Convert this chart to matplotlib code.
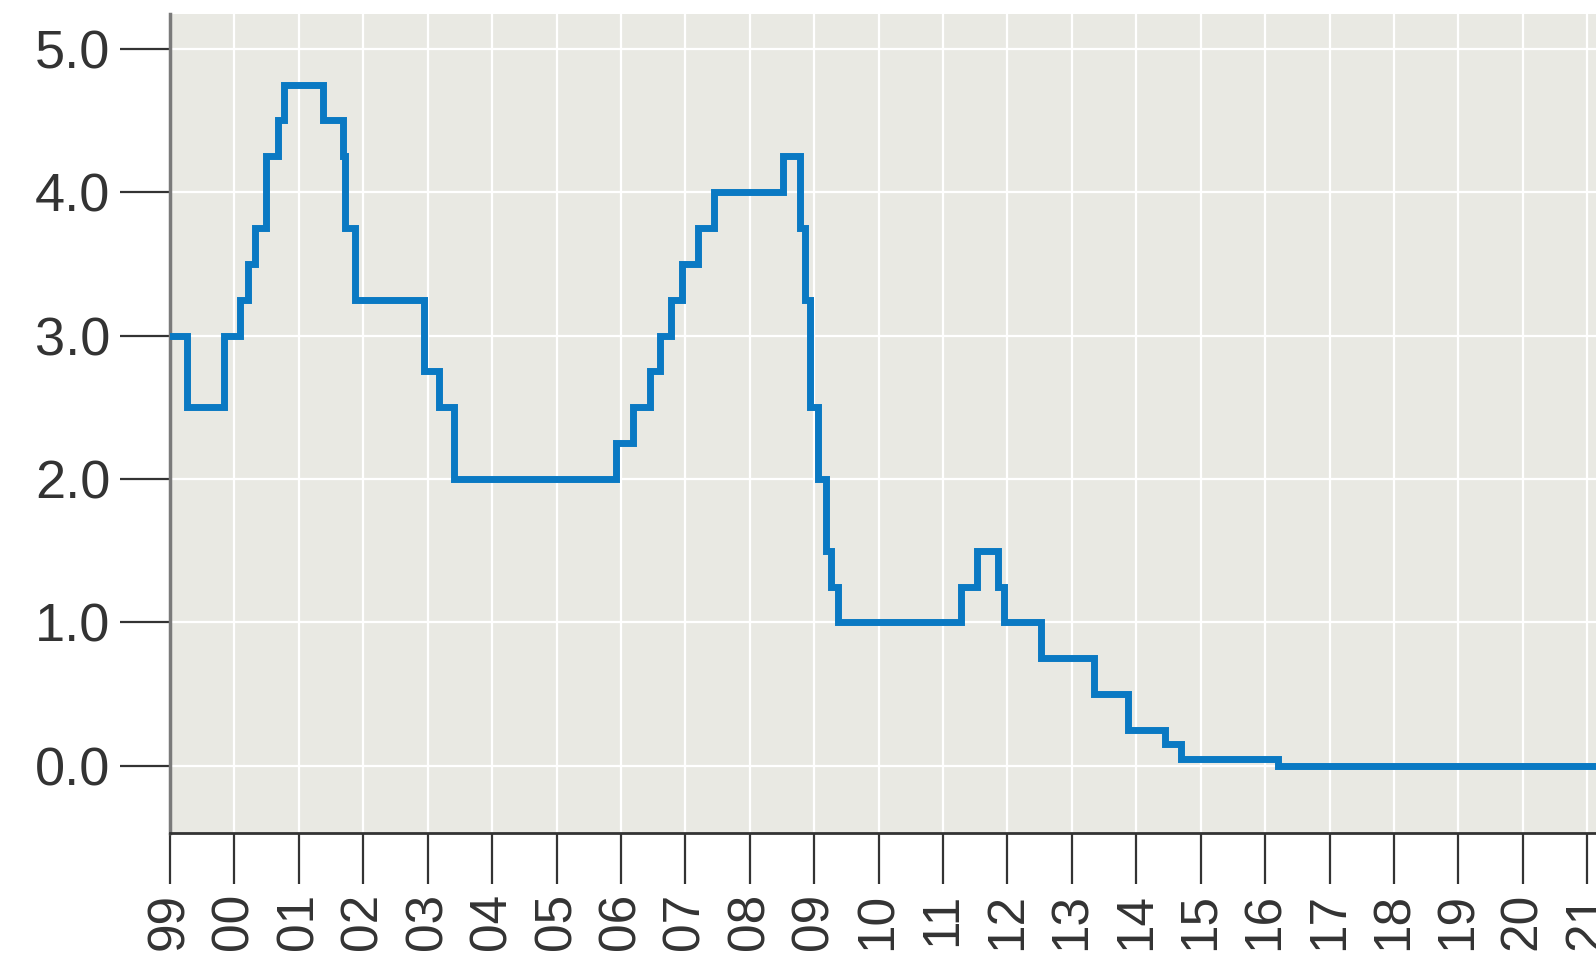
import pandas as pd
import matplotlib
matplotlib.use("Agg")
import matplotlib.pyplot as plt
import matplotlib.dates as mdates

# ECB main refinancing rate (%), change dates
dates = ["1999-01-01", "1999-04-09", "1999-11-05", "2000-02-04", "2000-03-17",
         "2000-04-28", "2000-06-28", "2000-09-06", "2000-10-11", "2001-05-15",
         "2001-09-06", "2001-09-18", "2001-11-14", "2002-12-11", "2003-03-07",
         "2003-06-02", "2005-12-06", "2006-03-08", "2006-06-15", "2006-08-09",
         "2006-10-11", "2006-12-13", "2007-03-14", "2007-06-13", "2008-07-09",
         "2008-10-15", "2008-11-12", "2008-12-10", "2009-01-21", "2009-03-11",
         "2009-04-08", "2009-05-13", "2011-04-13", "2011-07-13", "2011-11-09",
         "2011-12-14", "2012-07-11", "2013-05-08", "2013-11-13", "2014-06-11",
         "2014-09-10", "2016-03-16", "2021-02-20"]
rates = [3.00, 2.50, 3.00, 3.25, 3.50,
         3.75, 4.25, 4.50, 4.75, 4.50,
         4.25, 3.75, 3.25, 2.75, 2.50,
         2.00, 2.25, 2.50, 2.75, 3.00,
         3.25, 3.50, 3.75, 4.00, 4.25,
         3.75, 3.25, 2.50, 2.00, 1.50,
         1.25, 1.00, 1.25, 1.50, 1.25,
         1.00, 0.75, 0.50, 0.25, 0.15,
         0.05, 0.00, 0.00]
yticks = [0.0, 1.0, 2.0, 3.0, 4.0, 5.0]

x = pd.to_datetime(dates)

fig = plt.figure(figsize=(15.96, 9.56), dpi=100)
ax = fig.add_axes([170/1596, 123/956, 1 - 170/1596, (941.7 - 123)/956])
ax.set_facecolor("#e9e9e3")

ax.step(x, rates, where="post", color="#0a79c3", lw=5.0, solid_joinstyle="miter",
        zorder=3)

ax.set_xlim(pd.Timestamp("1999-01-01"), pd.Timestamp("2021-02-20"))
ax.set_ylim(-0.468, 5.24)
ax.set_yticks(yticks)
ax.yaxis.set_major_formatter(plt.FormatStrFormatter("%.1f"))
ax.xaxis.set_major_locator(mdates.YearLocator())
ax.xaxis.set_major_formatter(mdates.DateFormatter("%y"))

ax.grid(True, color="white", lw=1.6, zorder=1)
ax.set_axisbelow(True)

for s in ["top", "right"]:
    ax.spines[s].set_visible(False)
ax.spines["left"].set_color("#7a7a7a")
ax.spines["left"].set_linewidth(2.5)
ax.spines["bottom"].set_color("#333333")
ax.spines["bottom"].set_linewidth(2)

ax.tick_params(axis="y", length=36, width=1.6, color="#333333", pad=7,
               labelsize=39, labelcolor="#333333")
ax.tick_params(axis="x", length=37, width=1.6, color="#333333", pad=6,
               labelsize=37, labelcolor="#333333", labelrotation=90)
for lab in ax.get_xticklabels() + ax.get_yticklabels():
    lab.set_fontfamily("Liberation Sans")

fig.savefig("out.png", dpi=100)
